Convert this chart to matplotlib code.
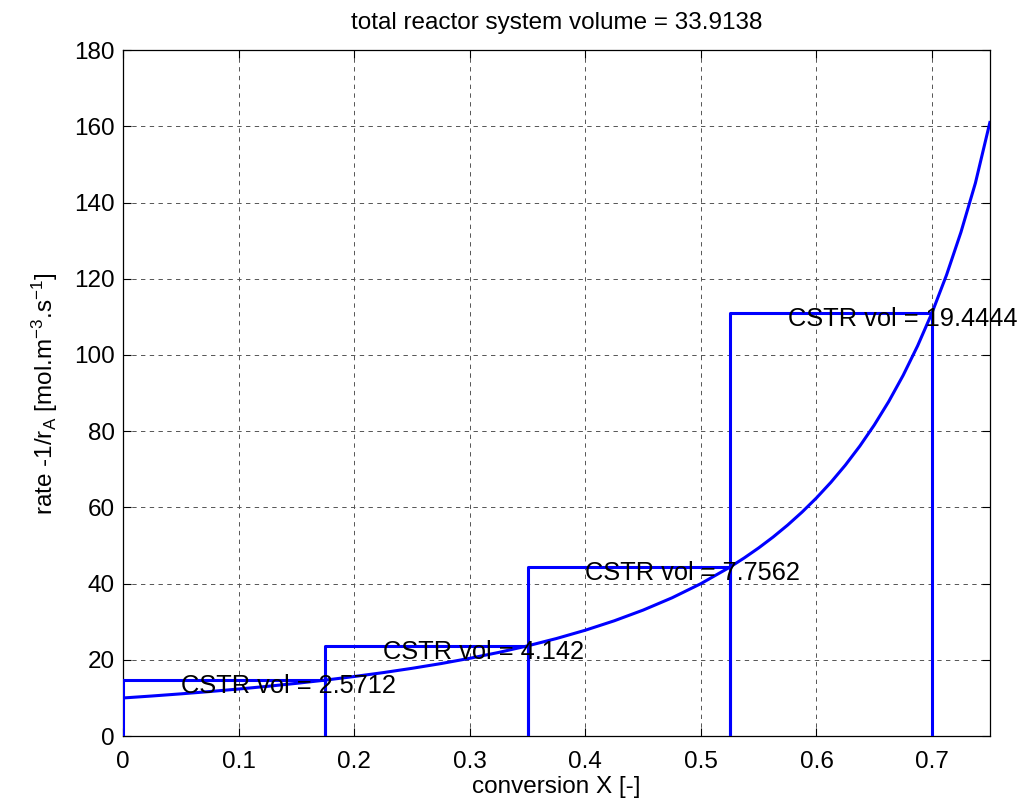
import matplotlib
matplotlib.use("Agg")
import matplotlib.pyplot as plt

plt.rcParams["font.family"] = ["Liberation Sans", "DejaVu Sans"]
plt.rcParams["mathtext.default"] = "regular"

# rate curve -1/rA vs conversion
conversion = [0.0, 0.025, 0.05, 0.075, 0.1, 0.125, 0.15, 0.175, 0.2, 0.225,
              0.25, 0.275, 0.3, 0.325, 0.35, 0.375, 0.4, 0.425, 0.45, 0.475,
              0.5, 0.525, 0.5375, 0.55, 0.5625, 0.575, 0.5875, 0.6, 0.6125,
              0.625, 0.6375, 0.65, 0.6625, 0.675, 0.6875, 0.7, 0.7125, 0.725,
              0.7375, 0.75]
inv_rate = [10.0, 10.52, 11.08, 11.69, 12.35, 13.06, 13.84, 14.69, 15.63, 16.65,
            17.78, 19.02, 20.41, 21.95, 23.67, 25.60, 27.78, 30.25, 33.06, 36.28,
            40.00, 44.32, 46.75, 49.38, 52.24, 55.36, 58.77, 62.50, 66.60,
            71.11, 76.10, 81.63, 87.79, 94.67, 102.40, 111.11, 120.98, 132.23,
            145.12, 161.0]

# CSTRs in series: inlet / outlet conversion, rate at outlet, volume
cstr_in = [0.0, 0.175, 0.35, 0.525]
cstr_out = [0.175, 0.35, 0.525, 0.7]
cstr_height = [14.693, 23.669, 44.321, 111.111]
cstr_vol = ["2.5712", "4.142", "7.7562", "19.4444"]
total_vol = "33.9138"

BLUE = "#0000FF"

fig = plt.figure(figsize=(10.21, 8.08), dpi=100)
ax = fig.add_axes([0.1205, 0.089, 0.849, 0.849])

ax.plot(conversion, inv_rate, color=BLUE, lw=2.2, zorder=3)

for x0, x1, h, v in zip(cstr_in, cstr_out, cstr_height, cstr_vol):
    ax.plot([x0, x0, x1, x1], [0, h, h, 0], color=BLUE, lw=2.2, zorder=3)
    ax.text(x0 + 0.05, h - 1.6, "CSTR vol = " + v, fontsize=18.3,
            va="center", ha="left", zorder=4)

ax.set_xlim(0, 0.75)
ax.set_ylim(0, 180)
ax.set_xticks([0, 0.1, 0.2, 0.3, 0.4, 0.5, 0.6, 0.7])
ax.set_xticklabels(["0", "0.1", "0.2", "0.3", "0.4", "0.5", "0.6", "0.7"])
ax.set_yticks(range(0, 181, 20))

ax.grid(True, color="#555555", ls=(0, (4.5, 4.5)), lw=0.7)
ax.tick_params(direction="in", length=6, width=0.8, labelsize=17.5,
               top=True, right=True, pad=6)
ax.tick_params(axis="x", pad=11)
for s in ax.spines.values():
    s.set_linewidth(0.9)

ax.set_title("total reactor system volume = " + total_vol, fontsize=17.5, pad=15)
ax.set_xlabel("conversion X [-]", fontsize=17.5, labelpad=2)
ax.set_ylabel("rate -1/r$_A$ [mol.m$^{-3}$.s$^{-1}$]", fontsize=17.5, labelpad=10)

fig.savefig("out.png", dpi=100)
